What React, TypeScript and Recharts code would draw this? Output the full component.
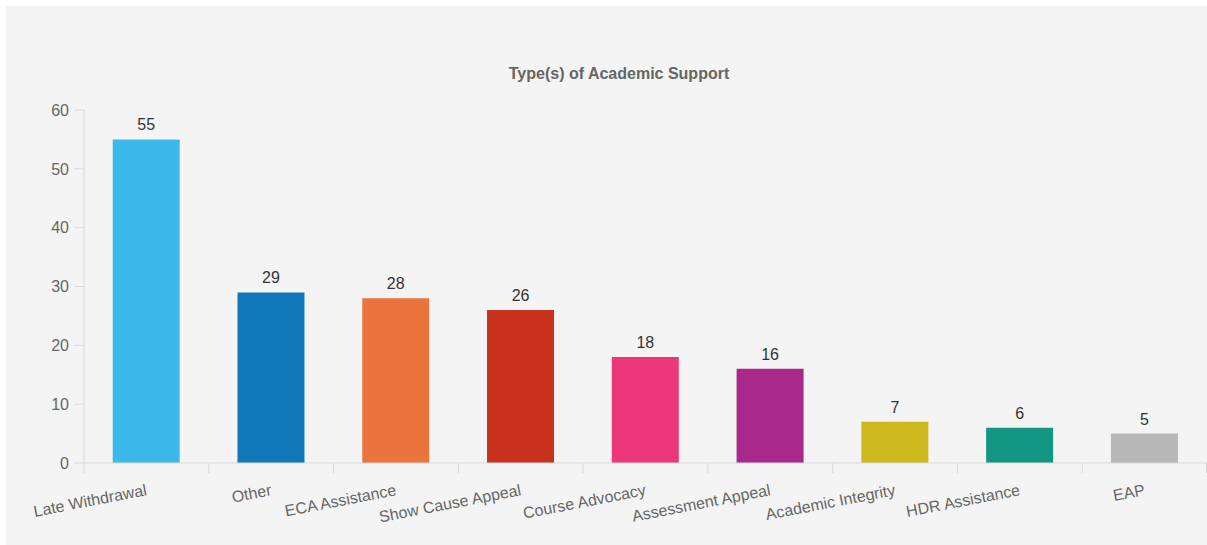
import { BarChart, Bar, XAxis, YAxis, Cell, LabelList } from 'recharts';

const CATEGORIES = [
  'Late Withdrawal',
  'Other',
  'ECA Assistance',
  'Show Cause Appeal',
  'Course Advocacy',
  'Assessment Appeal',
  'Academic Integrity',
  'HDR Assistance',
  'EAP',
];
const COUNTS = [55, 29, 28, 26, 18, 16, 7, 6, 5];
const COLORS = ['#3bb9eb', '#1078b8', '#ea743b', '#c8321f', '#ec3778', '#a9288b', '#cdb91e', '#139683', '#b7b7b7'];
const Y_TICKS = [0, 10, 20, 30, 40, 50, 60];

const data = CATEGORIES.map((name, i) => ({ name, count: COUNTS[i] }));

const W = 1201;
const H = 539;
const LEFT = 78;
const FONT = '"Liberation Sans", Arial, sans-serif';
const AXIS_COLOR = '#d9d9d9';
const HALF_BAND = (W - LEFT) / CATEGORIES.length / 2;

function CategoryTick(props: any) {
  const { x, y, payload, index } = props;
  const ax = y - 2;
  const last = index === CATEGORIES.length - 1;
  return (
    <g>
      <line x1={x - HALF_BAND} y1={ax} x2={x - HALF_BAND} y2={ax + 10} stroke={AXIS_COLOR} />
      {last && <line x1={x + HALF_BAND - 0.5} y1={ax} x2={x + HALF_BAND - 0.5} y2={ax + 10} stroke={AXIS_COLOR} />}
      <text
        x={x + 1}
        y={ax + 32}
        textAnchor="end"
        fill="#666"
        fontSize={16}
        fontFamily={FONT}
        transform={`rotate(-11, ${x + 1}, ${ax + 32})`}
      >
        {payload.value}
      </text>
    </g>
  );
}

export default function App() {
  return (
    <div style={{ position: 'absolute', left: 0, top: 0, width: 1207, height: 545, background: '#fff' }}>
      <div style={{ position: 'absolute', left: 6, top: 6, width: W, height: H, background: '#f4f4f4' }}>
        <div
          style={{
            position: 'absolute',
            left: 619 - 6 - 200,
            width: 400,
            top: 59,
            textAlign: 'center',
            fontFamily: FONT,
            fontWeight: 'bold',
            fontSize: 16,
            color: '#666',
          }}
        >
          Type(s) of Academic Support
        </div>
        <BarChart width={W} height={H} data={data} margin={{ top: 104, right: 0, left: 0, bottom: 0 }} barCategoryGap="23%">
          <XAxis
            dataKey="name"
            height={82}
            interval={0}
            tickLine={false}
            tickSize={0}
            axisLine={{ stroke: AXIS_COLOR }}
            tick={<CategoryTick />}
          />
          <YAxis
            width={LEFT}
            domain={[0, 60]}
            ticks={Y_TICKS}
            tickSize={10}
            tickMargin={5}
            axisLine={{ stroke: AXIS_COLOR }}
            tickLine={{ stroke: AXIS_COLOR }}
            tick={{ fill: '#666', fontSize: 16, fontFamily: FONT }}
          />
          <Bar dataKey="count" isAnimationActive={false}>
            {data.map((d, i) => (
              <Cell key={d.name} fill={COLORS[i]} />
            ))}
            <LabelList dataKey="count" position="top" offset={9} fill="#333" fontSize={16} fontFamily={FONT} />
          </Bar>
        </BarChart>
      </div>
    </div>
  );
}
